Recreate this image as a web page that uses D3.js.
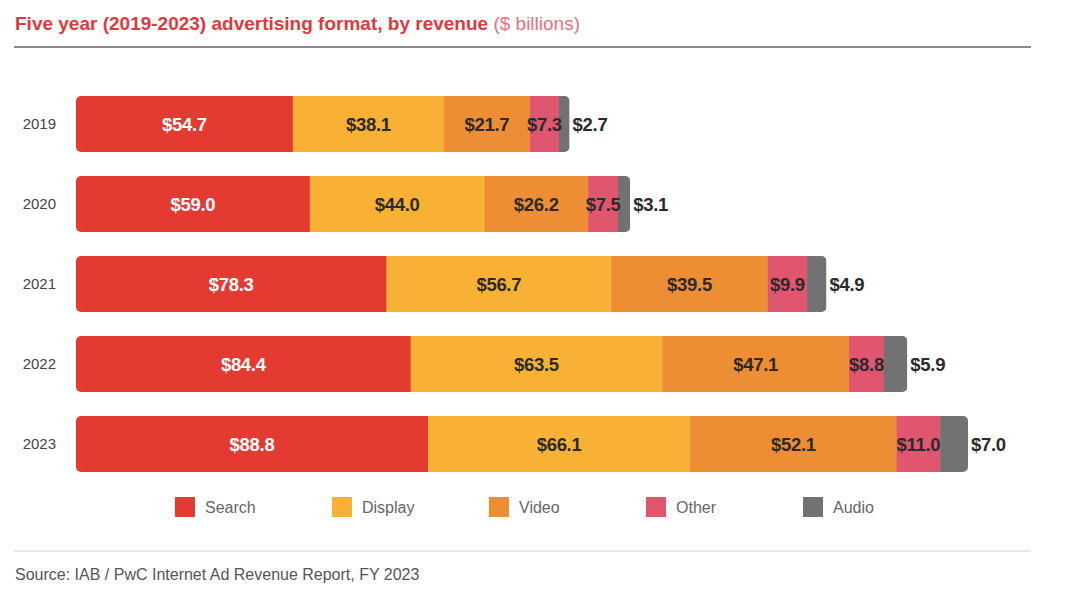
<!DOCTYPE html>
<html>
<head>
<meta charset="utf-8">
<script src="https://cdn.jsdelivr.net/npm/d3@7"></script>
<style>
  html, body { margin: 0; padding: 0; background: #fff; }
  svg { display: block; font-family: "Liberation Sans", Arial, Helvetica, sans-serif; }
</style>
</head>
<body>
<svg id="chart" width="1076" height="592"></svg>
<script>
const years = ["2019", "2020", "2021", "2022", "2023"];
const formats = ["Search", "Display", "Video", "Other", "Audio"];
const search  = [54.7, 59.0, 78.3, 84.4, 88.8];
const display = [38.1, 44.0, 56.7, 63.5, 66.1];
const video   = [21.7, 26.2, 39.5, 47.1, 52.1];
const other   = [7.3, 7.5, 9.9, 8.8, 11.0];
const audio   = [2.7, 3.1, 4.9, 5.9, 7.0];
const colors  = ["#e33b32", "#f8b135", "#ee8e34", "#e0566f", "#727272"];
const titleMain = "Five year (2019-2023) advertising format, by revenue";
const titleUnit = " ($ billions)";
const sourceText = "Source: IAB / PwC Internet Ad Revenue Report, FY 2023";

const seriesVals = [search, display, video, other, audio];
const rows = years.map((y, i) => {
  const r = { year: y };
  formats.forEach((f, k) => r[f] = seriesVals[k][i]);
  return r;
});

const svg = d3.select("#chart");
const stack = d3.stack().keys(formats)(rows);
const maxTotal = d3.max(rows, r => d3.sum(formats, f => r[f]));

const x = d3.scaleLinear().domain([0, maxTotal]).range([76, 968]);
const y = d3.scaleBand().domain(years).range([84, 484]).paddingInner(0.3).paddingOuter(0.15);
const color = d3.scaleOrdinal().domain(formats).range(colors);

// Title
const title = svg.append("text").attr("x", 15).attr("y", 30)
  .attr("font-size", 19).attr("fill", "#de3a3e");
title.append("tspan").attr("font-weight", "bold").text(titleMain);
title.append("tspan").attr("fill", "#e8707a").text(titleUnit);
svg.append("line").attr("x1", 14).attr("x2", 1031).attr("y1", 47).attr("y2", 47)
  .attr("stroke", "#8a8a8a").attr("stroke-width", 2);

// clip paths for rounded bars
const defs = svg.append("defs");
rows.forEach((r, i) => {
  const total = d3.sum(formats, f => r[f]);
  defs.append("clipPath").attr("id", "clip" + i)
    .append("rect")
    .attr("x", x(0)).attr("y", y(r.year))
    .attr("width", x(total) - x(0)).attr("height", y.bandwidth())
    .attr("rx", 5).attr("ry", 5);
});

// Bars
stack.forEach((layer, k) => {
  const g = svg.append("g").attr("fill", color(layer.key));
  layer.forEach((d, i) => {
    g.append("rect")
      .attr("clip-path", `url(#clip${i})`)
      .attr("x", x(d[0]))
      .attr("y", y(years[i]))
      .attr("width", x(d[1]) - x(d[0]) + (k < formats.length - 1 ? 0.5 : 0))
      .attr("height", y.bandwidth());
  });
});

// Value labels
stack.forEach((layer, k) => {
  layer.forEach((d, i) => {
    const last = k === formats.length - 1;
    const cx = last ? x(d[1]) + 3 : (x(d[0]) + x(d[1])) / 2;
    svg.append("text")
      .attr("x", cx)
      .attr("y", y(years[i]) + y.bandwidth() / 2)
      .attr("dy", "0.36em")
      .attr("text-anchor", last ? "start" : "middle")
      .attr("font-size", 18.5)
      .attr("font-weight", "bold")
      .attr("letter-spacing", -0.3)
      .attr("fill", k === 0 ? "#fff" : "#2b2b2b")
      .text("$" + (d[1] - d[0]).toFixed(1));
  });
});

// Year axis labels
const yAxis = d3.axisLeft(y).tickSize(0).tickPadding(0);
const ag = svg.append("g").attr("transform", "translate(56,0)").call(yAxis);
ag.select(".domain").remove();
ag.selectAll("text").attr("font-size", 15).attr("fill", "#444")
  .attr("font-family", "Liberation Sans, Arial, sans-serif");

// Legend
const legendX = d3.scalePoint().domain(formats).range([175, 803]);
const lg = svg.append("g");
formats.forEach(f => {
  const gx = legendX(f);
  lg.append("rect").attr("x", gx).attr("y", 497).attr("width", 20).attr("height", 20)
    .attr("fill", color(f));
  lg.append("text").attr("x", gx + 30).attr("y", 507).attr("dy", "0.36em")
    .attr("font-size", 16).attr("fill", "#666").text(f);
});

// Footer
svg.append("line").attr("x1", 14).attr("x2", 1031).attr("y1", 551).attr("y2", 551)
  .attr("stroke", "#e8e8e8").attr("stroke-width", 2);
svg.append("text").attr("x", 15).attr("y", 580).attr("font-size", 16)
  .attr("fill", "#555").text(sourceText);
</script>
</body>
</html>
